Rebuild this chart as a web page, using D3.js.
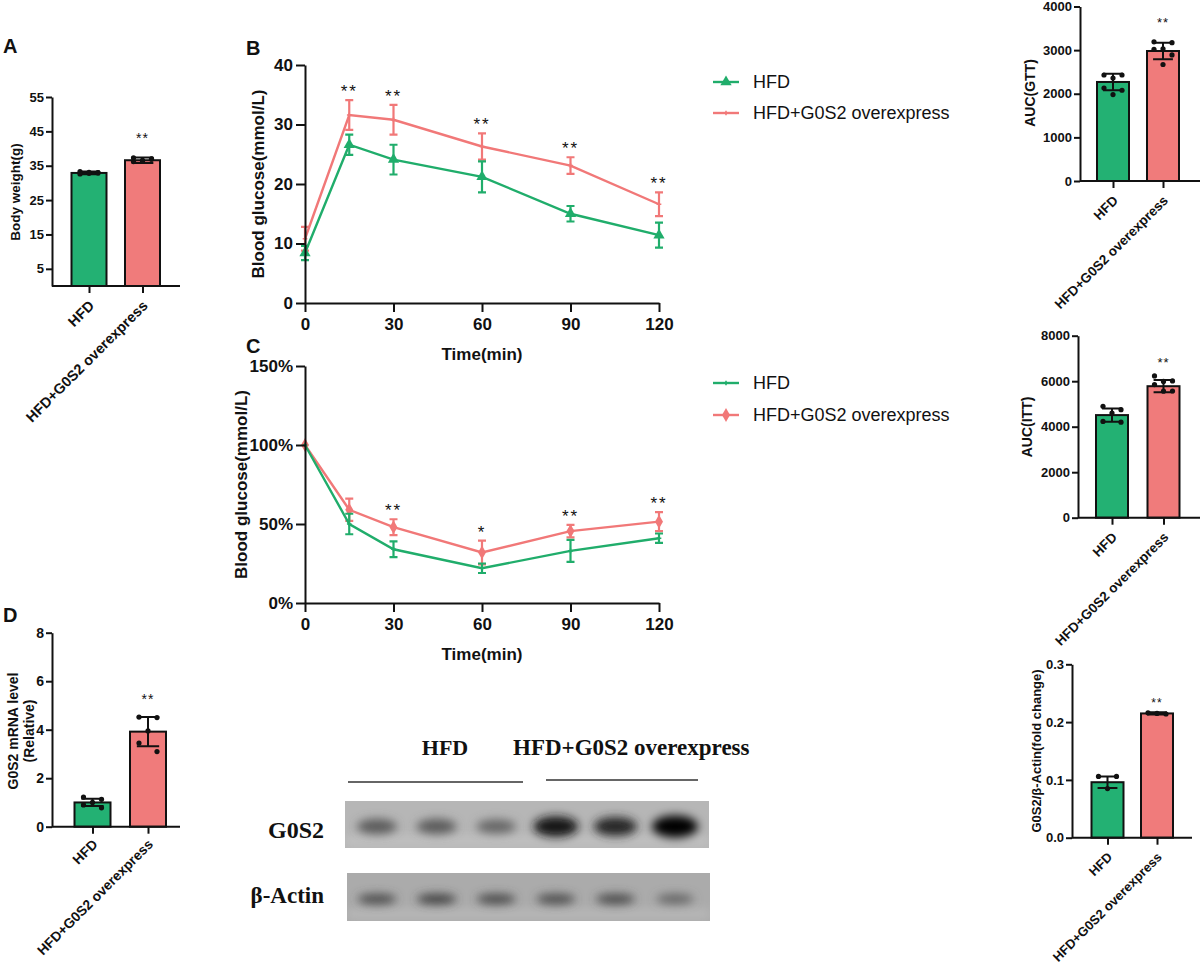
<!DOCTYPE html>
<html lang="en">
<head>
<meta charset="UTF-8">
<title>G0S2 overexpression in HFD mice</title>
<script src="https://d3js.org/d3.v7.min.js"></script>
<style>
  body { margin: 0; background: #fff; }
  svg { display: block; font-family: "Liberation Sans", Arial, sans-serif; }
  .axis .domain, .axis .tick line { stroke: #111; stroke-width: 2; }
  .axis text { fill: #111; font-weight: bold; }
</style>
</head>
<body>
<svg id="fig" width="1200" height="964"></svg>
<script>
// ---- data ----
const groups = ["HFD", "HFD+G0S2 overexpress"];

const bodyWeightMean = [32.9, 36.6];
const bodyWeightSd = [0.4, 0.8];
const bodyWeightDots = [[33.3, 33.0, 32.8, 32.6, 32.9, 33.1], [37.3, 36.9, 36.4, 36.2, 37.0, 36.6]];

const gttAucMean = [2270, 2980];
const gttAucSd = [190, 190];
const gttAucDots = [[2430, 2430, 2360, 2130, 2080, 1980], [3190, 3170, 3030, 3020, 2890, 2670]];

const ittAucMean = [4510, 5780];
const ittAucSd = [290, 270];
const ittAucDots = [[4900, 4750, 4600, 4230, 4200], [6230, 6010, 5990, 5850, 5570, 5560]];

const mrnaMean = [1.0, 3.92];
const mrnaSd = [0.15, 0.6];
const mrnaDots = [[1.22, 1.13, 1.0, 0.9, 0.78], [4.52, 4.50, 3.95, 3.45, 3.10]];

const ratioMean = [0.096, 0.215];
const ratioSd = [0.010, 0.002];
const ratioDots = [[0.106, 0.106, 0.085], [0.216, 0.214, 0.215]];

const timePoints = [0, 15, 30, 60, 90, 120];
const timeTicks = [0, 30, 60, 90, 120];

const gttHfdMean = [8.4, 26.6, 24.1, 21.2, 15.0, 11.4];
const gttHfdSd = [1.2, 1.7, 2.5, 2.6, 1.3, 2.1];
const gttOeMean = [10.8, 31.6, 30.8, 26.3, 23.1, 16.6];
const gttOeSd = [2.0, 2.5, 2.5, 2.2, 1.4, 2.0];
const gttStars = ["", "**", "**", "**", "**", "**"];

const ittHfdMean = [100, 50, 34, 22, 33, 41];
const ittHfdSd = [0, 6.5, 5, 3, 7, 3];
const ittOeMean = [100, 59, 48, 32, 45.5, 51.5];
const ittOeSd = [0, 7, 5, 7.5, 4, 6];
const ittStars = ["", "", "**", "*", "**", "**"];

const lanes = [1, 2, 3, 4, 5, 6];
const g0s2Density = [0.5, 0.5, 0.44, 0.9, 0.78, 1.0];
const actinDensity = [0.58, 0.64, 0.6, 0.58, 0.6, 0.45];

// ---- styling ----
const ink = "#111";
const barColors = ["#23b173", "#f07b7b"];
const lineColors = ["#20ad6b", "#f17878"];

const svg = d3.select("#fig");
svg.append("rect").attr("width", 1200).attr("height", 964).attr("fill", "#fff");

const defs = svg.append("defs");
defs.append("filter").attr("id", "bandBlur")
    .attr("x", "-50%").attr("y", "-100%").attr("width", "200%").attr("height", "300%")
  .append("feGaussianBlur").attr("stdDeviation", 5);

function panelLetter(t, x, y) {
    svg.append("text").attr("x", x).attr("y", y).text(t)
        .attr("font-size", 20).attr("font-weight", "bold").attr("fill", ink);
}

function yLabel(lines, xs, cy, size) {
    lines.forEach((t, i) => {
        svg.append("text")
            .attr("transform", `translate(${xs[i]},${cy}) rotate(-90)`)
            .attr("text-anchor", "middle")
            .attr("font-size", size).attr("font-weight", "bold").attr("fill", ink)
            .text(t);
    });
}

// bar + sd + dots, GraphPad style
function barPanel(o) {
    const g = svg.append("g");
    const y = d3.scaleLinear().domain(o.domain).range([o.yBottom, o.yTop]);
    const x = d3.scalePoint().domain(groups).range(o.centers);
    const y0 = y(o.domain[0]);
    const capW = o.barW * 0.62;
    const spread = [-9, 9, 0, -9, 9, 0, -4, 4];

    g.selectAll("rect.bar").data(groups).join("rect")
        .attr("class", "bar")
        .attr("x", d => x(d) - o.barW / 2)
        .attr("y", (d, i) => y(o.mean[i]))
        .attr("width", o.barW)
        .attr("height", (d, i) => y0 - y(o.mean[i]))
        .attr("fill", (d, i) => barColors[i])
        .attr("stroke", ink).attr("stroke-width", 2);

    groups.forEach((d, i) => {
        const cx = x(d);
        const lo = y(o.mean[i] - o.sd[i]), hi = y(o.mean[i] + o.sd[i]);
        g.append("path")
            .attr("d", `M${cx},${lo}V${hi}M${cx - capW / 2},${hi}H${cx + capW / 2}M${cx - capW / 2},${lo}H${cx + capW / 2}`)
            .attr("stroke", ink).attr("stroke-width", 2).attr("fill", "none");
        g.selectAll(null).data(o.dots[i]).join("circle")
            .attr("cx", (v, j) => cx + spread[j % spread.length])
            .attr("cy", v => y(v))
            .attr("r", 2.6)
            .attr("fill", ink);
    });

    // significance over the second group
    const top = y(o.mean[1] + o.sd[1]);
    g.append("text")
        .attr("x", x(groups[1])).attr("y", top - o.starGap)
        .attr("text-anchor", "middle").attr("font-size", o.starSize).attr("fill", ink)
        .attr("letter-spacing", 1)
        .text("**");

    const ya = g.append("g").attr("class", "axis")
        .attr("transform", `translate(${o.axisX},0)`)
        .call(d3.axisLeft(y).tickValues(o.ticks).tickFormat(o.fmt).tickSize(6).tickSizeOuter(0).tickPadding(2));
    ya.selectAll("text").attr("font-size", o.tickSize);

    const xa = g.append("g").attr("class", "axis")
        .attr("transform", `translate(0,${y0})`)
        .call(d3.axisBottom(x).tickSize(7).tickSizeOuter(0));
    xa.select(".domain").remove();
    xa.selectAll("text")
        .attr("font-size", o.labelSize)
        .attr("text-anchor", "end")
        .attr("x", 0).attr("y", 0).attr("dy", "0.35em")
        .attr("transform", `translate(2,${o.labelDrop || 17}) rotate(-45)`);
    g.append("line")
        .attr("x1", o.axisX).attr("x2", o.xEnd).attr("y1", y0).attr("y2", y0)
        .attr("stroke", ink).attr("stroke-width", 2);
}

// time-course panel with mean +/- sd
function linePanel(o) {
    const g = svg.append("g");
    const x = d3.scaleLinear().domain([0, 120]).range([305, 659]);
    const y = d3.scaleLinear().domain(o.domain).range([o.yBottom, o.yTop]);
    const line = d3.line().x((d, i) => x(timePoints[i])).y(d => y(d));

    o.series.slice().reverse().forEach(s => {
        g.append("path").datum(s.mean).attr("d", line)
            .attr("fill", "none").attr("stroke", s.color).attr("stroke-width", 2.4);
        s.mean.forEach((m, i) => {
            if (!s.sd[i]) return;
            const cx = x(timePoints[i]), lo = y(m - s.sd[i]), hi = y(m + s.sd[i]);
            g.append("path")
                .attr("d", `M${cx},${lo}V${hi}M${cx - 4},${hi}H${cx + 4}M${cx - 4},${lo}H${cx + 4}`)
                .attr("stroke", s.color).attr("stroke-width", 2.2).attr("fill", "none");
        });
        g.selectAll(null).data(s.mean).join("path")
            .attr("transform", (d, i) => `translate(${x(timePoints[i])},${y(d)})`)
            .attr("d", d3.symbol(s.symbol, s.size))
            .attr("fill", s.color);
    });

    o.stars.forEach((st, i) => {
        if (!st) return;
        const top = d3.max(o.series, s => s.mean[i] + s.sd[i]);
        g.append("text")
            .attr("x", x(timePoints[i])).attr("y", y(top) - 3)
            .attr("text-anchor", "middle").attr("font-size", 17).attr("fill", ink)
            .attr("letter-spacing", 2)
            .text(st);
    });

    const ya = g.append("g").attr("class", "axis")
        .attr("transform", "translate(305,0)")
        .call(d3.axisLeft(y).tickValues(o.ticks).tickFormat(o.fmt).tickSize(9).tickSizeOuter(0).tickPadding(3));
    ya.selectAll("text").attr("font-size", 17);
    const xa = g.append("g").attr("class", "axis")
        .attr("transform", `translate(0,${o.yBottom})`)
        .call(d3.axisBottom(x).tickValues(timeTicks).tickSize(9).tickSizeOuter(0).tickPadding(6));
    xa.selectAll("text").attr("font-size", 17);

    g.append("text")
        .attr("x", 482).attr("y", o.yBottom + 57)
        .attr("text-anchor", "middle").attr("font-size", 17).attr("font-weight", "bold").attr("fill", ink)
        .text("Time(min)");
    yLabel(["Blood glucose(mmol/L)"], [o.labelX], (o.yBottom + o.yTop) / 2, 17);

    // legend
    o.series.forEach((s, i) => {
        const ly = o.legendY[i];
        g.append("line").attr("x1", 713).attr("x2", 739).attr("y1", ly).attr("y2", ly)
            .attr("stroke", s.color).attr("stroke-width", 2.4);
        g.append("path").attr("transform", `translate(726,${ly})`)
            .attr("d", d3.symbol(s.symbol, s.size)).attr("fill", s.color);
        g.append("text").attr("x", 753).attr("y", ly + 6)
            .attr("font-size", 18).attr("fill", ink).text(groups[i]);
    });
}

// ---- A: body weight ----
panelLetter("A", 3, 53);
barPanel({
    domain: [0, 55], ticks: [5, 15, 25, 35, 45, 55], fmt: d3.format("d"),
    yBottom: 286, yTop: 97, axisX: 52, xEnd: 180, centers: [89, 142.5], barW: 35,
    mean: bodyWeightMean, sd: bodyWeightSd, dots: bodyWeightDots,
    starGap: 14, starSize: 14, tickSize: 13, labelSize: 14.5
});
yLabel(["Body weight(g)"], [20], 192, 13.5);

// ---- B: GTT ----
panelLetter("B", 246, 55);
linePanel({
    domain: [0, 40], ticks: [0, 10, 20, 30, 40], fmt: d3.format("d"),
    yBottom: 303, yTop: 65, labelX: 264,
    series: [
        { mean: gttHfdMean, sd: gttHfdSd, color: lineColors[0], symbol: d3.symbolTriangle, size: 55 },
        { mean: gttOeMean, sd: gttOeSd, color: lineColors[1], symbol: d3.symbolCross, size: 12 }
    ],
    stars: gttStars, legendY: [82, 113]
});

// ---- C: ITT ----
panelLetter("C", 246, 353);
linePanel({
    domain: [0, 150], ticks: [0, 50, 100, 150], fmt: d => d + "%",
    yBottom: 603, yTop: 366, labelX: 247,
    series: [
        { mean: ittHfdMean, sd: ittHfdSd, color: lineColors[0], symbol: d3.symbolCross, size: 12 },
        { mean: ittOeMean, sd: ittOeSd, color: lineColors[1], symbol: d3.symbolDiamond, size: 55 }
    ],
    stars: ittStars, legendY: [383, 415]
});

// ---- AUC panels ----
barPanel({
    domain: [0, 4000], ticks: [0, 1000, 2000, 3000, 4000], fmt: d3.format("d"),
    yBottom: 181, yTop: 6.5, axisX: 1080, xEnd: 1200, centers: [1113, 1163], barW: 32,
    mean: gttAucMean, sd: gttAucSd, dots: gttAucDots,
    starGap: 16, starSize: 13, tickSize: 13, labelSize: 13.5
});
yLabel(["AUC(GTT)"], [1035], 93, 14);

barPanel({
    domain: [0, 8000], ticks: [0, 2000, 4000, 6000, 8000], fmt: d3.format("d"),
    yBottom: 517.7, yTop: 335.7, axisX: 1078, xEnd: 1200, centers: [1112, 1163.5], barW: 32,
    mean: ittAucMean, sd: ittAucSd, dots: ittAucDots,
    starGap: 13, starSize: 13, tickSize: 13, labelSize: 13.5
});
yLabel(["AUC(ITT)"], [1032], 427, 14);

// ---- D: mRNA ----
panelLetter("D", 3, 622);
barPanel({
    domain: [0, 8], ticks: [0, 2, 4, 6, 8], fmt: d3.format("d"),
    yBottom: 826.7, yTop: 632.7, axisX: 52, xEnd: 180, centers: [92.5, 148], barW: 36,
    mean: mrnaMean, sd: mrnaSd, dots: mrnaDots,
    starGap: 13, starSize: 14, tickSize: 14, labelSize: 13.8, labelDrop: 15
});
yLabel(["G0S2 mRNA level", "(Relative)"], [18, 34], 731, 14);

// ---- western blot ----
const laneX = d3.scalePoint().domain(lanes).range([377, 675]);
const shade = d3.scaleLinear().domain([0, 1]).range(["#b4b4b4", "#000"]);

function blotStrip(id, density, x0, x1, yTop, yBot, bg, rx, ry0, ry1) {
    defs.append("clipPath").attr("id", id)
        .append("rect").attr("x", x0).attr("y", yTop).attr("width", x1 - x0).attr("height", yBot - yTop);
    const g = svg.append("g").attr("clip-path", `url(#${id})`);
    g.append("rect").attr("x", x0).attr("y", yTop).attr("width", x1 - x0).attr("height", yBot - yTop)
        .attr("fill", bg);
    g.append("rect").attr("x", x0).attr("y", yBot - 12).attr("width", x1 - x0).attr("height", 10)
        .attr("fill", "#fff").attr("opacity", 0.15).attr("filter", "url(#bandBlur)");
    const cy = (yTop + yBot) / 2 + 2;
    g.selectAll("ellipse").data(lanes).join("ellipse")
        .attr("cx", d => laneX(d))
        .attr("cy", cy)
        .attr("rx", (d, i) => rx + 6 * density[i])
        .attr("ry", (d, i) => ry0 + ry1 * density[i])
        .attr("fill", (d, i) => shade(density[i]))
        .attr("filter", "url(#bandBlur)");
}
blotStrip("clipG0s2", g0s2Density, 345, 709, 801, 848, "#b6b6b6", 17, 4, 7);
blotStrip("clipActin", actinDensity, 347, 710, 873, 921, "#ababab", 16, 4, 2);

const serif = "'Liberation Serif', 'Times New Roman', serif";
svg.append("text").attr("x", 445).attr("y", 755).attr("text-anchor", "middle")
    .attr("font-family", serif).attr("font-weight", "bold").attr("font-size", 22).attr("fill", ink)
    .text(groups[0]);
svg.append("text").attr("x", 513).attr("y", 755)
    .attr("font-family", serif).attr("font-weight", "bold").attr("font-size", 23).attr("fill", ink)
    .text(groups[1]);
svg.append("line").attr("x1", 348).attr("x2", 523).attr("y1", 782).attr("y2", 782)
    .attr("stroke", "#333").attr("stroke-width", 1.5);
svg.append("line").attr("x1", 546).attr("x2", 698).attr("y1", 780).attr("y2", 780)
    .attr("stroke", "#333").attr("stroke-width", 1.5);
svg.append("text").attr("x", 324).attr("y", 838).attr("text-anchor", "end")
    .attr("font-family", serif).attr("font-weight", "bold").attr("font-size", 24).attr("fill", ink)
    .text("G0S2");
svg.append("text").attr("x", 324).attr("y", 903).attr("text-anchor", "end")
    .attr("font-family", serif).attr("font-weight", "bold").attr("font-size", 23).attr("fill", ink)
    .text("β-Actin");

// ---- blot quantification ----
barPanel({
    domain: [0, 0.3], ticks: [0, 0.1, 0.2, 0.3], fmt: d3.format(".1f"),
    yBottom: 837.7, yTop: 664.3, axisX: 1072, xEnd: 1192, centers: [1107.5, 1157], barW: 32,
    mean: ratioMean, sd: ratioSd, dots: ratioDots,
    starGap: 5, starSize: 12, tickSize: 13, labelSize: 13
});
yLabel(["G0S2/β-Actin(fold change)"], [1041], 751, 13);
</script>
</body>
</html>
